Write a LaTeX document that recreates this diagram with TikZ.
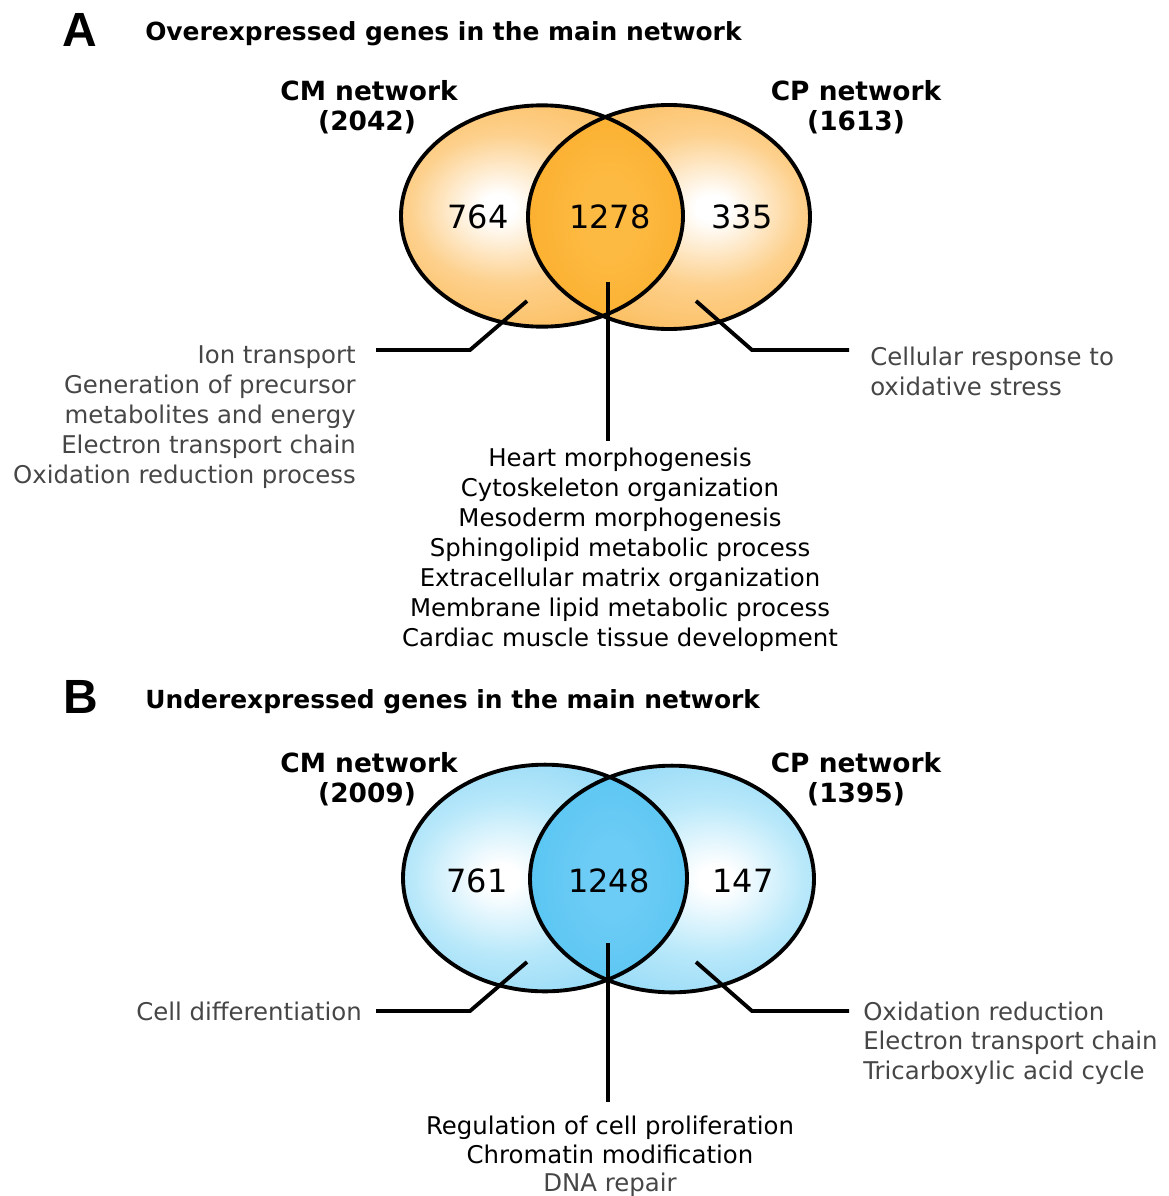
\documentclass[tikz,border=0pt]{standalone}
\usepackage{fontspec}
\setmainfont{DejaVu Sans}
\newfontfamily\panelfont{Liberation Sans}

% palette
\definecolor{orgedge}{RGB}{251,174,54}
\definecolor{orgmid}{RGB}{253,208,140}
\definecolor{orglensin}{RGB}{253,186,66}
\definecolor{orglensout}{RGB}{250,166,30}
\definecolor{bluedge}{RGB}{116,204,243}
\definecolor{bluemid}{RGB}{184,232,250}
\definecolor{bluelensin}{RGB}{108,204,245}
\definecolor{bluelensout}{RGB}{74,192,240}
\definecolor{txtgray}{RGB}{70,70,70}

% soft glows for the two sets and their overlap
\pgfdeclareradialshading{glowL-or}{\pgfpoint{-8bp}{2bp}}{color(0bp)=(white); color(3bp)=(white); color(17bp)=(orgmid); color(41bp)=(orgedge); color(90bp)=(orgedge)}
\pgfdeclareradialshading{glowR-or}{\pgfpoint{8bp}{2bp}}{color(0bp)=(white); color(3bp)=(white); color(17bp)=(orgmid); color(41bp)=(orgedge); color(90bp)=(orgedge)}
\pgfdeclareradialshading{lens-or}{\pgfpoint{0bp}{0bp}}{color(0bp)=(orglensin); color(8bp)=(orglensin); color(40bp)=(orglensout); color(80bp)=(orglensout)}
\pgfdeclareradialshading{glowL-bl}{\pgfpoint{-8bp}{0bp}}{color(0bp)=(white); color(3bp)=(white); color(17bp)=(bluemid); color(41bp)=(bluedge); color(90bp)=(bluedge)}
\pgfdeclareradialshading{glowR-bl}{\pgfpoint{8bp}{0bp}}{color(0bp)=(white); color(3bp)=(white); color(17bp)=(bluemid); color(41bp)=(bluedge); color(90bp)=(bluedge)}
\pgfdeclareradialshading{lens-bl}{\pgfpoint{0bp}{0bp}}{color(0bp)=(bluelensin); color(8bp)=(bluelensin); color(40bp)=(bluelensout); color(80bp)=(bluelensout)}

\begin{document}
\begin{tikzpicture}[x=0.75pt,y=-0.75pt,
  conn/.style={line width=2.9pt},
  vborder/.style={line width=2.9pt, draw=black},
  term/.style={font=\fontsize{18.3}{22.5}\selectfont, inner sep=0pt},
  termgray/.style={term, text=txtgray},
  count/.style={font=\fontsize{24}{28}\selectfont, inner sep=0pt},
  setlabel/.style={font=\fontsize{19.8}{24}\selectfont\bfseries, inner sep=0pt, anchor=base},
  heading/.style={font=\fontsize{18.7}{22}\selectfont\bfseries, inner sep=0pt, anchor=base west},
  panel/.style={font=\panelfont\fontsize{36}{40}\selectfont\bfseries, inner sep=0pt, anchor=base west}]

\useasboundingbox (0,0) rectangle (1168,1196);

% ---------------- Panel A ----------------
\node[panel] (A-tag) at (62,46) {A};
\node[heading] (A-title) at (145,40) {Overexpressed genes in the main network};

\coordinate (A-cm) at (542,216);
\coordinate (A-cp) at (669,217);
\shade[shading=glowL-or] (A-cm) ellipse [x radius=105.75pt, y radius=83pt];
\shade[shading=glowR-or] (A-cp) ellipse [x radius=105.75pt, y radius=84pt];
\begin{scope}
  \clip (A-cm) ellipse [x radius=105.75pt, y radius=83pt];
  \clip (A-cp) ellipse [x radius=105.75pt, y radius=84pt];
  \shade[shading=lens-or] (525,100) rectangle (692,335);
\end{scope}
\draw[vborder] (A-cm) ellipse [x radius=105.75pt, y radius=83pt];
\draw[vborder] (A-cp) ellipse [x radius=105.75pt, y radius=84pt];

\node[setlabel] (A-cm-name) at (369,100) {CM network};
\node[setlabel] (A-cm-size) at (367,130) {(2042)};
\node[setlabel] (A-cp-name) at (856,100) {CP network};
\node[setlabel] (A-cp-size) at (856,130) {(1613)};

\node[count] (A-n-cm) at (478,217) {764};
\node[count] (A-n-both) at (610,217) {1278};
\node[count] (A-n-cp) at (742,217) {335};

% leader lines
\coordinate (A-l-tip) at (527,301);
\coordinate (A-l-bend) at (470,350);
\coordinate (A-l-end) at (376,350);
\coordinate (A-m-tip) at (608,282);
\coordinate (A-m-end) at (608,441);
\coordinate (A-r-tip) at (696,301);
\coordinate (A-r-bend) at (752,350);
\coordinate (A-r-end) at (849,350);
\draw[conn] (A-l-tip) -- (A-l-bend) -- (A-l-end);
\draw[conn] (A-m-tip) -- (A-m-end);
\draw[conn] (A-r-tip) -- (A-r-bend) -- (A-r-end);

\foreach \t [count=\i] in {Ion transport, Generation of precursor, metabolites and energy, Electron transport chain, Oxidation reduction process}
  \node[termgray, anchor=base east] (A-left-\i) at (356,{363+30*(\i-1)}) {\t};
\foreach \t [count=\i] in {Cellular response to, oxidative stress}
  \node[termgray, anchor=base west] (A-right-\i) at (870,{365+30*(\i-1)}) {\t};
\foreach \t [count=\i] in {Heart morphogenesis, Cytoskeleton organization, Mesoderm morphogenesis, Sphingolipid metabolic process, Extracellular matrix organization, Membrane lipid metabolic process, Cardiac muscle tissue development}
  \node[term, anchor=base] (A-mid-\i) at (620,{466+30*(\i-1)}) {\t};

% ---------------- Panel B ----------------
\node[panel] (B-tag) at (63,713) {B};
\node[heading] (B-title) at (145,708) {Underexpressed genes in the main network};

\coordinate (B-cm) at (545,878);
\coordinate (B-cp) at (672,879);
\shade[shading=glowL-bl] (B-cm) ellipse [x radius=106.5pt, y radius=85pt];
\shade[shading=glowR-bl] (B-cp) ellipse [x radius=106.5pt, y radius=85pt];
\begin{scope}
  \clip (B-cm) ellipse [x radius=106.5pt, y radius=85pt];
  \clip (B-cp) ellipse [x radius=106.5pt, y radius=85pt];
  \shade[shading=lens-bl] (528,760) rectangle (695,998);
\end{scope}
\draw[vborder] (B-cm) ellipse [x radius=106.5pt, y radius=85pt];
\draw[vborder] (B-cp) ellipse [x radius=106.5pt, y radius=85pt];

\node[setlabel] (B-cm-name) at (369,772) {CM network};
\node[setlabel] (B-cm-size) at (367,802) {(2009)};
\node[setlabel] (B-cp-name) at (856,772) {CP network};
\node[setlabel] (B-cp-size) at (856,802) {(1395)};

\node[count] (B-n-cm) at (477,881) {761};
\node[count] (B-n-both) at (609,881) {1248};
\node[count] (B-n-cp) at (743,881) {147};

\coordinate (B-l-tip) at (527,962);
\coordinate (B-l-bend) at (470,1011);
\coordinate (B-l-end) at (376,1011);
\coordinate (B-m-tip) at (608,943);
\coordinate (B-m-end) at (608,1102);
\coordinate (B-r-tip) at (696,962);
\coordinate (B-r-bend) at (752,1011);
\coordinate (B-r-end) at (849,1011);
\draw[conn] (B-l-tip) -- (B-l-bend) -- (B-l-end);
\draw[conn] (B-m-tip) -- (B-m-end);
\draw[conn] (B-r-tip) -- (B-r-bend) -- (B-r-end);

\node[termgray, anchor=base east] (B-left-1) at (362,1020) {Cell differentiation};
\foreach \t [count=\i] in {Oxidation reduction, Electron transport chain, Tricarboxylic acid cycle}
  \node[termgray, anchor=base west] (B-right-\i) at (863,{1020+29.5*(\i-1)}) {\t};
\node[term, anchor=base] (B-mid-1) at (610,1134) {Regulation of cell proliferation};
\node[term, anchor=base] (B-mid-2) at (610,1163) {Chromatin modification};
\node[termgray, anchor=base] (B-mid-3) at (610,1191) {DNA repair};

\end{tikzpicture}
\end{document}
